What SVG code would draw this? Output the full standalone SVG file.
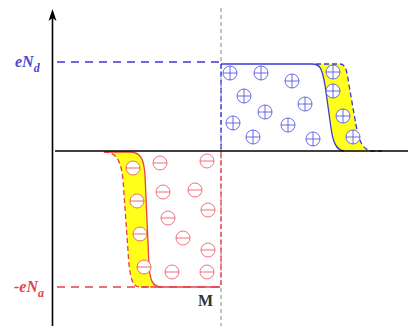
<svg xmlns="http://www.w3.org/2000/svg" width="408" height="326" viewBox="0 0 408 326">
<defs>
<style>
.ax{stroke:#000;stroke-width:1.6;fill:none}
.bl{stroke:#3a3ad8;stroke-width:1.3;fill:none}
.bld{stroke:#3a3ad8;stroke-width:1.3;fill:none;stroke-dasharray:5,3}
.rd{stroke:#e8404c;stroke-width:1.3;fill:none}
.rdd{stroke:#e8404c;stroke-width:1.3;fill:none;stroke-dasharray:5,3}
.long{stroke-dasharray:8,6}
.yl{fill:#ffff1a;stroke:none}
.lbl{font-family:"Liberation Serif",serif;font-style:italic;font-weight:bold;font-size:16px}
.sub{font-family:"Liberation Serif",serif;font-style:italic;font-weight:bold;font-size:12px}
</style>
<g id="plus">
<circle r="7" fill="none" stroke="#5a5ae0" stroke-width="0.9"/>
<path d="M-7,0H7M0,-7V7" stroke="#5a5ae0" stroke-width="0.9"/>
</g>
<g id="plusw">
<circle r="7" fill="#fff" stroke="#5a5ae0" stroke-width="0.9"/>
<path d="M-7,0H7M0,-7V7" stroke="#5a5ae0" stroke-width="0.9"/>
</g>
<g id="minus">
<circle r="7" fill="none" stroke="#ee6070" stroke-width="0.9"/>
<path d="M-7,0H7" stroke="#ee6070" stroke-width="0.9"/>
</g>
<g id="minusw">
<circle r="7" fill="#fff" stroke="#e8604c" stroke-width="0.9"/>
<path d="M-7,0H7" stroke="#e8604c" stroke-width="0.9"/>
</g>
</defs>
<rect width="408" height="326" fill="#fff"/>

<g id="yellow-regions">
<path class="yl" d="M316,64 L340,64 C346,64 347,72 349,85 L356,125 C359,140 362,150 372,151 L344,151 C336,150 333,142 331,128 L325,85 C322,68 320,64 312,64 Z"/>
<path class="yl" d="M104,152 L130,152 C141,152 144,160 145,175 L149,265 C150,280 152,287 162,287 L140,287 C133,287 131,280 129,265 L123,180 C121,160 116,152 104,152 Z"/>
</g>

<g id="connectors">
<line x1="221" y1="8" x2="221" y2="326" stroke="#999" stroke-width="1.2" stroke-dasharray="4,3"/>
<line x1="57" y1="62" x2="220" y2="62" class="bld long"/>
<line x1="57" y1="287" x2="220" y2="287" class="rdd long"/>
<line x1="221" y1="64" x2="221" y2="151" class="bld"/>
<line x1="221" y1="152" x2="221" y2="287" class="rdd"/>
<path class="bl" d="M221,64 L312,64 C320,64 322,68 325,85 L331,128 C333,142 336,150 344,151"/>
<path class="bld" d="M316,64 L340,64 C346,64 347,72 349,85 L356,125 C359,140 362,150 372,151 L382,151"/>
<path class="rd" d="M104,152 L130,152 C141,152 144,160 145,175 L149,265 C150,280 152,287 162,287 L220,287"/>
<path class="rdd" d="M104,152 C116,152 121,160 123,180 L129,265 C131,280 133,287 140,287 L162,287"/>
<line x1="55" y1="151" x2="408" y2="151" class="ax"/>
<line x1="52.5" y1="18" x2="52.5" y2="326" class="ax"/>
<path d="M52.5,9 L48.5,21 L52.5,18 L56.5,21 Z" fill="#000"/>
</g>

<g id="donors">
<use href="#plus" x="230" y="73"/>
<use href="#plus" x="261" y="73"/>
<use href="#plus" x="292" y="81"/>
<use href="#plus" x="244" y="96"/>
<use href="#plus" x="265" y="112"/>
<use href="#plus" x="305" y="104"/>
<use href="#plus" x="233" y="123"/>
<use href="#plus" x="288" y="125"/>
<use href="#plus" x="253" y="137"/>
<use href="#plus" x="313" y="139"/>
<use href="#plusw" x="333" y="72"/>
<use href="#plusw" x="333" y="91"/>
<use href="#plusw" x="343" y="116"/>
<use href="#plusw" x="353" y="137"/>
</g>

<g id="acceptors">
<use href="#minusw" x="133" y="168"/>
<use href="#minus" x="160" y="163"/>
<use href="#minus" x="207" y="161"/>
<use href="#minus" x="163" y="192"/>
<use href="#minus" x="195" y="190"/>
<use href="#minusw" x="137" y="201"/>
<use href="#minus" x="168" y="218"/>
<use href="#minus" x="208" y="210"/>
<use href="#minusw" x="140" y="234"/>
<use href="#minus" x="183" y="238"/>
<use href="#minus" x="208" y="250"/>
<use href="#minusw" x="144" y="267"/>
<use href="#minus" x="172" y="272"/>
<use href="#minus" x="207" y="272"/>
</g>

<g id="labels">
<text x="15" y="67" class="lbl" fill="#4a4ad0">eN<tspan class="sub" dy="5">d</tspan></text>
<text x="14" y="292" class="lbl" fill="#e8404c" font-weight="normal">-eN<tspan class="sub" dy="5">a</tspan></text>
<text x="198" y="306" font-family="Liberation Serif,serif" font-size="16" font-weight="bold" fill="#333">M</text>
</g>
</svg>
